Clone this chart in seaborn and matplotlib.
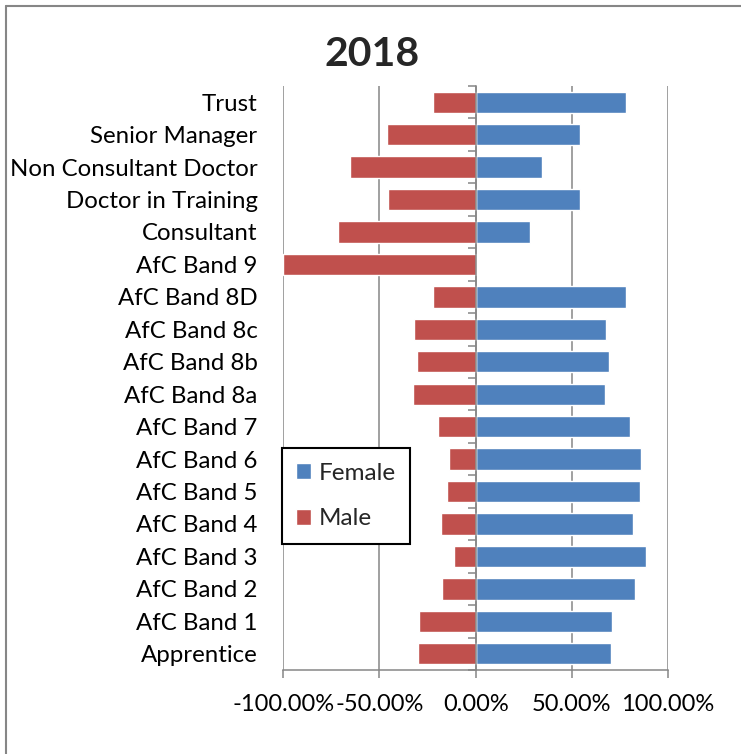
import pandas as pd
import matplotlib.pyplot as plt
import seaborn as sns
from matplotlib.lines import Line2D
from matplotlib.ticker import FuncFormatter, FixedLocator

# share of staff by role
roles = ['Trust', 'Senior Manager', 'Non Consultant Doctor', 'Doctor in Training',
         'Consultant', 'AfC Band 9', 'AfC Band 8D', 'AfC Band 8c', 'AfC Band 8b',
         'AfC Band 8a', 'AfC Band 7', 'AfC Band 6', 'AfC Band 5', 'AfC Band 4',
         'AfC Band 3', 'AfC Band 2', 'AfC Band 1', 'Apprentice']
female = [0.78, 0.54, 0.345, 0.545, 0.285, 0.0, 0.78, 0.68, 0.695, 0.675,
          0.802, 0.862, 0.852, 0.82, 0.886, 0.826, 0.708, 0.702]
male = [0.22, 0.46, 0.655, 0.455, 0.715, 1.0, 0.22, 0.32, 0.305, 0.325,
        0.198, 0.138, 0.148, 0.18, 0.114, 0.174, 0.292, 0.298]
xticks = [-1.0, -0.5, 0.0, 0.5, 1.0]

colors = {'Female': '#4F81BD', 'Male': '#C0504D'}
grey = '#868686'

sns.set_style('white')
plt.rcParams['font.family'] = ['Lato', 'DejaVu Sans']

# male shares go to the left of zero
df = pd.concat([
    pd.DataFrame({'role': roles, 'share': female, 'gender': 'Female'}),
    pd.DataFrame({'role': roles, 'share': [-m for m in male], 'gender': 'Male'}),
])

fig = plt.figure(figsize=(7.41, 7.54), dpi=100)
ax = fig.add_axes([283.3 / 741, 1 - 670 / 754, (668 - 283.3) / 741, (670 - 86) / 754])

sns.barplot(data=df, x='share', y='role', hue='gender', hue_order=['Female', 'Male'],
            palette=colors, dodge=False, width=0.66, saturation=1, errorbar=None,
            orient='h', ax=ax)

ax.set_xlim(-1, 1)
ax.set_ylim(len(roles) - 0.5, -0.5)
ax.set_xticks(xticks)
ax.xaxis.set_major_formatter(FuncFormatter(lambda v, _: f'{v:.2%}'))
ax.set_xlabel('')
ax.set_ylabel('')

# vertical gridlines
ax.grid(axis='x', color=grey, linewidth=1.1)
ax.grid(axis='y', visible=False)
ax.set_axisbelow(True)

for s in ['top', 'right']:
    ax.spines[s].set_visible(False)
ax.spines['bottom'].set_color(grey)
ax.spines['bottom'].set_linewidth(1.1)
ax.spines['left'].set_position(('data', 0))
ax.spines['left'].set_color(grey)
ax.spines['left'].set_linewidth(1.1)
ax.spines['left'].set_zorder(3)

ax.tick_params(axis='x', bottom=True, length=6, width=1.1, color=grey,
               labelsize=17, pad=11, labelcolor='black')
ax.yaxis.set_minor_locator(FixedLocator([k + 0.5 for k in range(-1, len(roles))]))
ax.tick_params(axis='y', which='minor', left=True, length=6, width=1.1, color=grey)
ax.tick_params(axis='y', which='major', left=True, length=0, labelsize=17.3, pad=157,
               labelcolor='black')

handles, labels = ax.get_legend_handles_labels()
leg = ax.legend(handles, labels, loc='upper left', bbox_to_anchor=(281.7 / 741, 1 - 448.3 / 754),
                bbox_transform=fig.transFigure, borderaxespad=0, fontsize=17.5,
                frameon=True, fancybox=False, framealpha=1, edgecolor='black',
                handlelength=0.62, handleheight=0.62, handletextpad=0.29,
                labelspacing=1.0, borderpad=0.6)
leg.get_frame().set_linewidth(1.5)

fig.text(0.502, 1 - 55 / 754, '2018', ha='center', va='center', fontsize=29.5,
         fontweight='bold')

# chart area frame (left and top edges)
fig.add_artist(Line2D([5.5 / 741, 5.5 / 741], [0, 1 - 5.5 / 754], color=grey, linewidth=1.5))
fig.add_artist(Line2D([5.5 / 741, 1], [1 - 5.5 / 754, 1 - 5.5 / 754], color=grey, linewidth=1.5))

fig.savefig('out.png', dpi=100)
